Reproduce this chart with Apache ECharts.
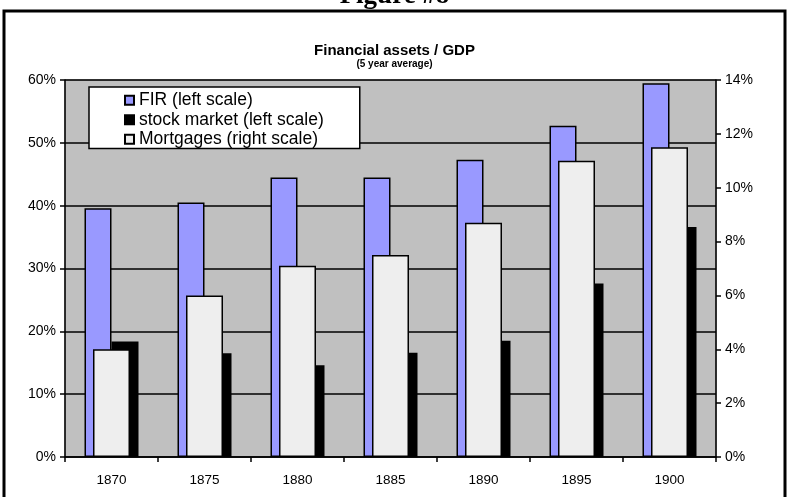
<!DOCTYPE html>
<html>
<head>
<meta charset="utf-8">
<script src="https://cdn.jsdelivr.net/npm/echarts@6/dist/echarts.min.js"></script>
<style>html,body{margin:0;padding:0;background:#fff;}#c{width:789px;height:497px;}</style>
</head>
<body>
<div id="c"></div>
<script>
const years = ['1870','1875','1880','1885','1890','1895','1900'];
const firValues = [39.6, 40.5, 44.5, 44.5, 47.3, 52.7, 59.5];
const stockValues = [18.4, 16.5, 14.6, 16.6, 18.5, 27.6, 36.6];
const mortgageValues = [4.0, 6.0, 7.1, 7.5, 8.7, 11.0, 11.5];
const leftTicks = [0, 60, 10];
const rightTicks = [0, 14, 2];

const font = 'Liberation Sans, Arial, sans-serif';
const chart = echarts.init(document.getElementById('c'), null, {renderer: 'canvas'});
const barBorder = {borderColor: '#000', borderWidth: 1.5};
chart.setOption({
  animation: false,
  backgroundColor: '#fff',
  title: [{
    text: 'Financial assets / GDP',
    subtext: '(5 year average)',
    left: 'center', top: 38, itemGap: 1,
    textStyle: {fontFamily: font, fontWeight: 'bold', fontSize: 15, color: '#000'},
    subtextStyle: {fontFamily: font, fontWeight: 'bold', fontSize: 10, color: '#000'}
  }],
  legend: {
    orient: 'vertical', left: 89, top: 87,
    padding: [4, 36, 0, 35], itemGap: 1,
    itemWidth: 9, itemHeight: 9, icon: 'rect',
    backgroundColor: '#fff', borderColor: '#000', borderWidth: 1.5,
    textStyle: {fontFamily: font, fontSize: 17.5, color: '#000', lineHeight: 18.5},
    data: ['FIR (left scale)', 'stock market (left scale)', 'Mortgages (right scale)']
  },
  grid: {left: 65, right: 73, top: 80, bottom: 40, show: true, backgroundColor: '#c0c0c0', borderColor: '#808080', borderWidth: 1},
  xAxis: [{
    type: 'category', data: years, gridIndex: 0,
    axisLine: {lineStyle: {color: '#000', width: 1.5}},
    axisTick: {show: true, alignWithLabel: false, length: 5, lineStyle: {color: '#000', width: 1.5}},
    axisLabel: {fontFamily: font, fontSize: 13.5, color: '#000', margin: 16}
  }, {
    type: 'category', data: years, gridIndex: 0, show: false
  }],
  yAxis: [{
    type: 'value', min: leftTicks[0], max: leftTicks[1], interval: leftTicks[2],
    axisLine: {show: true, lineStyle: {color: '#000', width: 1.5}},
    axisTick: {show: true, length: 5, lineStyle: {color: '#000', width: 1.5}},
    axisLabel: {formatter: '{value}%', fontFamily: font, fontSize: 14, color: '#000', margin: 9},
    splitLine: {show: true, lineStyle: {color: '#000', width: 1.5}}
  }, {
    type: 'value', position: 'right', min: rightTicks[0], max: rightTicks[1], interval: rightTicks[2],
    axisLine: {show: true, lineStyle: {color: '#000', width: 1.5}},
    axisTick: {show: true, length: 5, lineStyle: {color: '#000', width: 1.5}},
    axisLabel: {formatter: '{value}%', fontFamily: font, fontSize: 14, color: '#000', margin: 9},
    splitLine: {show: false}
  }],
  series: [{
    name: 'FIR (left scale)', type: 'bar', xAxisIndex: 0, yAxisIndex: 0,
    data: firValues, barWidth: 27, barGap: '0%',
    itemStyle: Object.assign({color: '#9999ff'}, barBorder), z: 2
  }, {
    name: 'stock market (left scale)', type: 'bar', xAxisIndex: 0, yAxisIndex: 0,
    data: stockValues, barWidth: 27, barGap: '0%',
    itemStyle: Object.assign({color: '#000000'}, barBorder), z: 2
  }, {
    name: 'Mortgages (right scale)', type: 'bar', xAxisIndex: 1, yAxisIndex: 1,
    data: mortgageValues, barWidth: 37,
    itemStyle: Object.assign({color: '#eeeeee'}, barBorder), z: 3
  }],
  graphic: [{
    type: 'rect', shape: {x: 4, y: 11, width: 781, height: 500},
    style: {fill: 'none', stroke: '#000', lineWidth: 3}, z: 100, silent: true
  }, {
    type: 'text', left: 'center', top: -17,
    style: {text: 'Figure #8', font: 'bold 27px "Liberation Serif", "Times New Roman", serif', fill: '#000'},
    z: 100, silent: true
  }]
});
</script>
</body>
</html>
